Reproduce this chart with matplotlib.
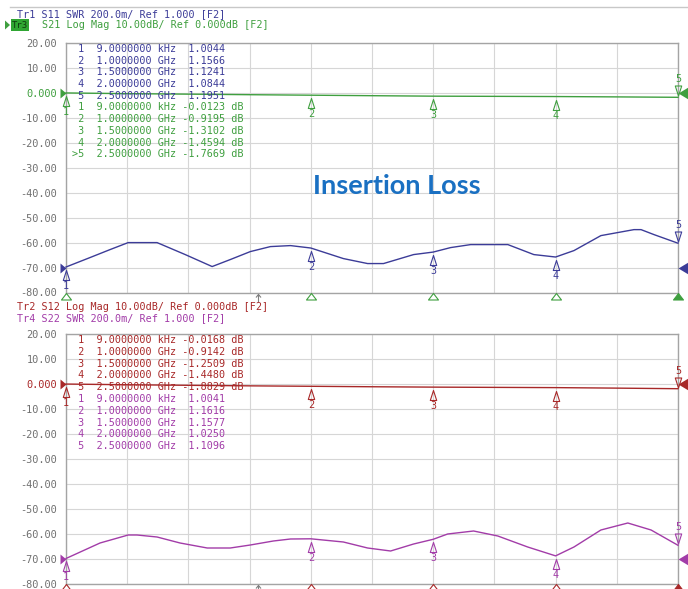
import matplotlib
matplotlib.use("Agg")
import matplotlib.pyplot as plt
import numpy as np
from matplotlib.path import Path
from matplotlib.lines import Line2D
from matplotlib.transforms import blended_transform_factory

# ---------------- data ----------------
marker_freq_ghz = [0.000009, 1.0, 1.5, 2.0, 2.5]
marker_freq_labels = ["9.0000000 kHz", "1.0000000 GHz", "1.5000000 GHz",
                      "2.0000000 GHz", "2.5000000 GHz"]
s11_marker_swr = [1.0044, 1.1566, 1.1241, 1.0844, 1.1951]
s21_marker_db = [-0.0123, -0.9195, -1.3102, -1.4594, -1.7669]
s12_marker_db = [-0.0168, -0.9142, -1.2509, -1.4480, -1.8829]
s22_marker_swr = [1.0041, 1.1616, 1.1577, 1.0250, 1.1096]

s21_freq = [0.0, 0.25, 0.5, 0.75, 1.0, 1.25, 1.5, 1.75, 2.0, 2.25, 2.5]
s21_db = [-0.0123, -0.30, -0.50, -0.72, -0.9195, -1.12, -1.3102, -1.38, -1.4594, -1.60, -1.7669]
s12_freq = [0.0, 0.25, 0.5, 0.75, 1.0, 1.25, 1.5, 1.75, 2.0, 2.25, 2.5]
s12_db = [-0.0168, -0.30, -0.52, -0.74, -0.9142, -1.10, -1.2509, -1.35, -1.4480, -1.65, -1.8829]

s11_freq = [0.0, 0.098, 0.18, 0.254, 0.372, 0.487, 0.597, 0.671, 0.753, 0.835, 0.917, 1.0,
            1.133, 1.232, 1.297, 1.42, 1.5, 1.571, 1.653, 1.805, 1.911, 2.0, 2.075, 2.185,
            2.32, 2.349, 2.402, 2.5]
s11_swr = [1.0044, 1.080, 1.144, 1.200, 1.200, 1.104, 1.008, 1.064, 1.128, 1.168, 1.176, 1.1566,
           1.072, 1.032, 1.032, 1.104, 1.1241, 1.160, 1.184, 1.184, 1.104, 1.0844, 1.136, 1.256,
           1.304, 1.304, 1.264, 1.1951]
s22_freq = [0.0, 0.139, 0.254, 0.29, 0.372, 0.466, 0.577, 0.671, 0.753, 0.847, 0.917, 1.0,
            1.133, 1.232, 1.326, 1.42, 1.5, 1.559, 1.665, 1.764, 1.886, 2.0, 2.075, 2.185,
            2.295, 2.39, 2.5]
s22_swr = [1.0041, 1.128, 1.192, 1.192, 1.176, 1.128, 1.088, 1.088, 1.112, 1.144, 1.160, 1.1616,
           1.136, 1.088, 1.064, 1.120, 1.1577, 1.200, 1.224, 1.184, 1.096, 1.0250, 1.096, 1.232,
           1.288, 1.232, 1.1096]

ytick_values = [20, 10, 0, -10, -20, -30, -40, -50, -60, -70, -80]
ytick_labels = ["20.00", "10.00", "0.000", "-10.00", "-20.00", "-30.00", "-40.00",
                "-50.00", "-60.00", "-70.00", "-80.00"]
cursor_ghz = 0.786

header_top = ["Tr1 S11 SWR 200.0m/ Ref 1.000 [F2]", "S21 Log Mag 10.00dB/ Ref 0.000dB [F2]"]
header_bot = ["Tr2 S12 Log Mag 10.00dB/ Ref 0.000dB [F2]", "Tr4 S22 SWR 200.0m/ Ref 1.000 [F2]"]
title_text = "Insertion Loss"

# SWR display scale
SWR_REF, SWR_DIV, SWR_REF_POS, DB_DIV = 1.0, 0.2, -70.0, 10.0

BLUE = "#3c3c98"
GREEN = "#3f9f3f"
RED = "#a82828"
MAG = "#a23ca8"
GRAY = "#707070"
MONO = "DejaVu Sans Mono"
FS = 7.3

W, H = 688, 589


def swr_to_grid(v):
    return SWR_REF_POS + (np.asarray(v) - SWR_REF) / SWR_DIV * DB_DIV


def pxmarker(verts):
    v = np.asarray(verts, float)
    m = np.abs(v).max()
    codes = [Path.MOVETO] + [Path.LINETO] * (len(v) - 1) + [Path.CLOSEPOLY]
    return Path(np.vstack([v, v[:1]]), codes), 2 * m * 0.72


def arrow_marker():
    v = np.array([(0, -9), (0, -1), (-2.5, -4), (0, -1), (2.5, -4)], float)
    codes = [Path.MOVETO, Path.LINETO, Path.MOVETO, Path.LINETO, Path.LINETO]
    return Path(v, codes), 2 * np.abs(v).max() * 0.72


fig = plt.figure(figsize=(W / 100, H / 100), dpi=100)
fig.patch.set_facecolor("white")


def fx(x):
    return x / W


def fy(y):
    return 1 - y / H


ax1 = fig.add_axes([fx(66), fy(292.5), 612 / W, 249.5 / H])
ax2 = fig.add_axes([fx(66), fy(584), 612 / W, 250 / H])

up_tri, up_ms = pxmarker([(-3.2, -13), (3.2, -13), (0, -3)])
dn_tri, dn_ms = pxmarker([(-3.2, 11.5), (3.2, 11.5), (0, 1.5)])
left_ind, left_ms = pxmarker([(-6, -5), (0, 0), (-6, 5)])
right_ind, right_ms = pxmarker([(0, 0), (10, -6), (10, 6)])
axis_tri, axis_ms = pxmarker([(-5, -6.5), (5, -6.5), (0, 0)])
cur_arrow, cur_ms = arrow_marker()


def setup(ax, refcolor):
    ax.set_xlim(0, 2.5)
    ax.set_ylim(-80, 20)
    ax.set_xticks(np.arange(0, 2.51, 0.25))
    ax.set_yticks(ytick_values)
    ax.set_yticklabels(ytick_labels, fontfamily=MONO, fontsize=FS + 0.1, color=GRAY)
    for lab, v in zip(ax.get_yticklabels(), ytick_values):
        if v == 0:
            lab.set_color(refcolor)
    ax.tick_params(axis="x", length=0, labelbottom=False)
    ax.tick_params(axis="y", length=0, pad=6.3)
    ax.grid(True, color="#d6d6d6", lw=0.8)
    ax.set_axisbelow(True)
    for s in ax.spines.values():
        s.set_color("#a4a4a4")
        s.set_linewidth(1.0)


def trace(ax, f, y, color, mf, my, ref, axis_marks, zorder=3):
    ax.plot(f, y, color=color, lw=1.0, zorder=zorder, clip_on=False)
    for i, (xm, ym) in enumerate(zip(mf, my)):
        if i < 4:
            ax.plot([xm], [ym], marker=up_tri, ms=up_ms, mfc="none", mec=color, mew=0.8,
                    clip_on=False, zorder=zorder + 1)
            ax.annotate(str(i + 1), (xm, ym), xytext=(0, -19 * 0.72), textcoords="offset points",
                        ha="center", va="center", fontfamily=MONO, fontsize=FS, color=color,
                        annotation_clip=False)
        else:
            ax.plot([xm], [ym], marker=dn_tri, ms=dn_ms, mfc="none", mec=color, mew=0.8,
                    clip_on=False, zorder=zorder + 1)
            ax.annotate(str(i + 1), (xm, ym), xytext=(0, 18 * 0.72), textcoords="offset points",
                        ha="center", va="center", fontfamily=MONO, fontsize=FS, color=color,
                        annotation_clip=False)
    tr = blended_transform_factory(ax.transAxes, ax.transData)
    ax.plot([0], [ref], marker=left_ind, ms=left_ms, color=color, mew=0, transform=tr,
            clip_on=False, zorder=6)
    ax.plot([1], [ref], marker=right_ind, ms=right_ms, color=color, mew=0, transform=tr,
            clip_on=False, zorder=6)
    if axis_marks:
        trb = blended_transform_factory(ax.transData, ax.transAxes)
        for i, xm in enumerate(mf):
            ax.plot([xm], [0], marker=axis_tri, ms=axis_ms, mec=color, mew=0.8,
                    mfc=(color if i == 4 else "white"), transform=trb, clip_on=False, zorder=6)
        ax.plot([cursor_ghz], [0], marker=cur_arrow, ms=cur_ms, mfc="none", mec="#808080",
                mew=0.8, transform=trb, clip_on=False, zorder=6)


setup(ax1, GREEN)
setup(ax2, RED)

# top panel: S11 (SWR) + S21 (dB)
trace(ax1, s11_freq, swr_to_grid(s11_swr), BLUE, marker_freq_ghz, swr_to_grid(s11_marker_swr),
      SWR_REF_POS, False)
trace(ax1, s21_freq, s21_db, GREEN, marker_freq_ghz, s21_marker_db, 0.0, True)
# bottom panel: S12 (dB) + S22 (SWR)
trace(ax2, s22_freq, swr_to_grid(s22_swr), MAG, marker_freq_ghz, swr_to_grid(s22_marker_swr),
      SWR_REF_POS, False)
trace(ax2, s12_freq, s12_db, RED, marker_freq_ghz, s12_marker_db, 0.0, True)


def table(y0, dy, rows):
    k = 0
    for color, vals, unit, active in rows:
        for i, v in enumerate(vals):
            pre = ">" if (active and i == 4) else " "
            s = f"{pre}{i + 1}  {marker_freq_labels[i]} {v:>7.4f}" + (" dB" if unit == "dB" else "")
            fig.text(fx(72), fy(y0 + dy * k), s, fontfamily=MONO, fontsize=FS, color=color,
                     ha="left", va="center")
            k += 1


table(49, 11.7, [(BLUE, s11_marker_swr, "", False), (GREEN, s21_marker_db, "dB", True)])
table(340, 11.8, [(RED, s12_marker_db, "dB", False), (MAG, s22_marker_swr, "", False)])

# headers
fig.text(fx(17), fy(14.5), header_top[0], fontfamily=MONO, fontsize=FS, color=BLUE, va="center")
fig.text(fx(20), fy(25), "Tr3", fontfamily=MONO, fontsize=FS - 0.8, color="#0e3a0e", va="center",
         ha="center", bbox=dict(boxstyle="square,pad=0.15", fc="#2fa532", ec="none"))
fig.text(fx(42), fy(25), header_top[1], fontfamily=MONO, fontsize=FS, color=GREEN, va="center")
fig.patches.append(plt.Polygon([(fx(5), fy(20.5)), (fx(5), fy(29.5)), (fx(10), fy(25))],
                               closed=True, transform=fig.transFigure, fc=GREEN, ec="none",
                               figure=fig))
fig.text(fx(17), fy(307), header_bot[0], fontfamily=MONO, fontsize=FS, color=RED, va="center")
fig.text(fx(17), fy(318), header_bot[1], fontfamily=MONO, fontsize=FS, color=MAG, va="center")

fig.add_artist(Line2D([fx(10), 1], [fy(7), fy(7)], color="#c8c8c8", lw=1.0))

fig.text(fx(397), fy(186), title_text, fontfamily="Lato", fontweight="bold", fontsize=19.5,
         color="#1a70c2", ha="center", va="center")

fig.savefig("out.png", dpi=100, facecolor="white")
